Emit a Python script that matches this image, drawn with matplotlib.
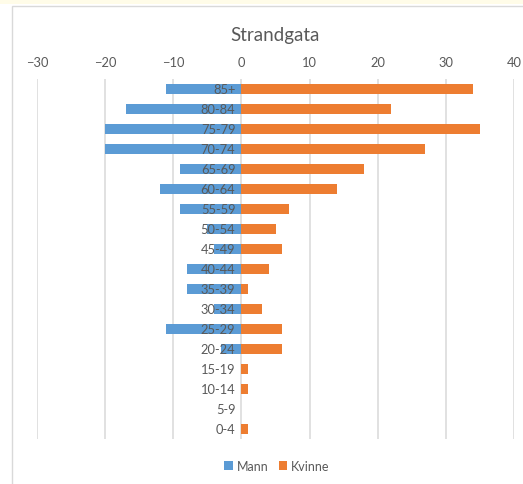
import matplotlib.pyplot as plt
import numpy as np
from matplotlib.patches import Rectangle

# age groups, bottom to top
groups = ["0-4", "5-9", "10-14", "15-19", "20-24", "25-29", "30-34", "35-39", "40-44",
          "45-49", "50-54", "55-59", "60-64", "65-69", "70-74", "75-79", "80-84", "85+"]
mann = [0, 0, 0, 0, -3, -11, -4, -8, -8, -4, -5, -9, -12, -9, -20, -20, -17, -11]
kvinne = [1, 0, 1, 1, 6, 6, 3, 1, 4, 6, 5, 7, 14, 18, 27, 35, 22, 34]
xticks = [-30, -20, -10, 0, 10, 20, 30, 40]

blue = "#5B9BD5"
orange = "#ED7D31"
grey_txt = "#595959"
grid_col = "#D9D9D9"

fig = plt.figure(figsize=(5.23, 4.85), dpi=100)

# chart frame and faint strip at the top
fig.patches.append(Rectangle((12 / 523, -0.02), 1.1, 1 - 7 / 485 + 0.02, transform=fig.transFigure,
                             facecolor="white", edgecolor="#D9D9D9", linewidth=1, zorder=-2))
fig.patches.append(Rectangle((0, 1 - 5 / 485), 1, 5 / 485, transform=fig.transFigure,
                             facecolor="#FFFCE8", edgecolor="none", zorder=-2))

ax = fig.add_axes([37 / 523, 1 - 440 / 485, 477 / 523, 360 / 485])
ax.set_zorder(1)
ax.set_facecolor("none")

y = np.arange(len(groups))
ax.barh(y, mann, height=0.5, color=blue, label="Mann", zorder=2)
ax.barh(y, kvinne, height=0.5, color=orange, label="Kvinne", zorder=2)

for t in xticks:
    ax.axvline(t, color=grid_col, linewidth=1.1, zorder=0)

for yi, g in zip(y, groups):
    ax.text(-0.9, yi, g, ha="right", va="center", fontsize=9.3, color=grey_txt,
            family="Lato", zorder=3)

ax.set_xlim(-30, 40)
ax.set_ylim(-0.5, len(groups) - 0.5)
ax.set_xticks(xticks)
ax.xaxis.tick_top()
ax.tick_params(axis="x", length=0, pad=8, labelsize=9.3, labelcolor=grey_txt)
for lab in ax.get_xticklabels():
    lab.set_family("Lato")
ax.set_yticks([])
for s in ax.spines.values():
    s.set_visible(False)

fig.text(275 / 523, 1 - 35 / 485, "Strandgata", ha="center", va="center",
         fontsize=13.5, color=grey_txt, family="Lato")

leg = fig.legend(loc="center", bbox_to_anchor=(277 / 523, 1 - 467 / 485), ncol=2,
                 frameon=False, handlelength=0.7, handleheight=0.7, handletextpad=0.3,
                 columnspacing=0.8, prop={"family": "Lato", "size": 9})
for txt in leg.get_texts():
    txt.set_color(grey_txt)

fig.savefig("out.png", dpi=100)
